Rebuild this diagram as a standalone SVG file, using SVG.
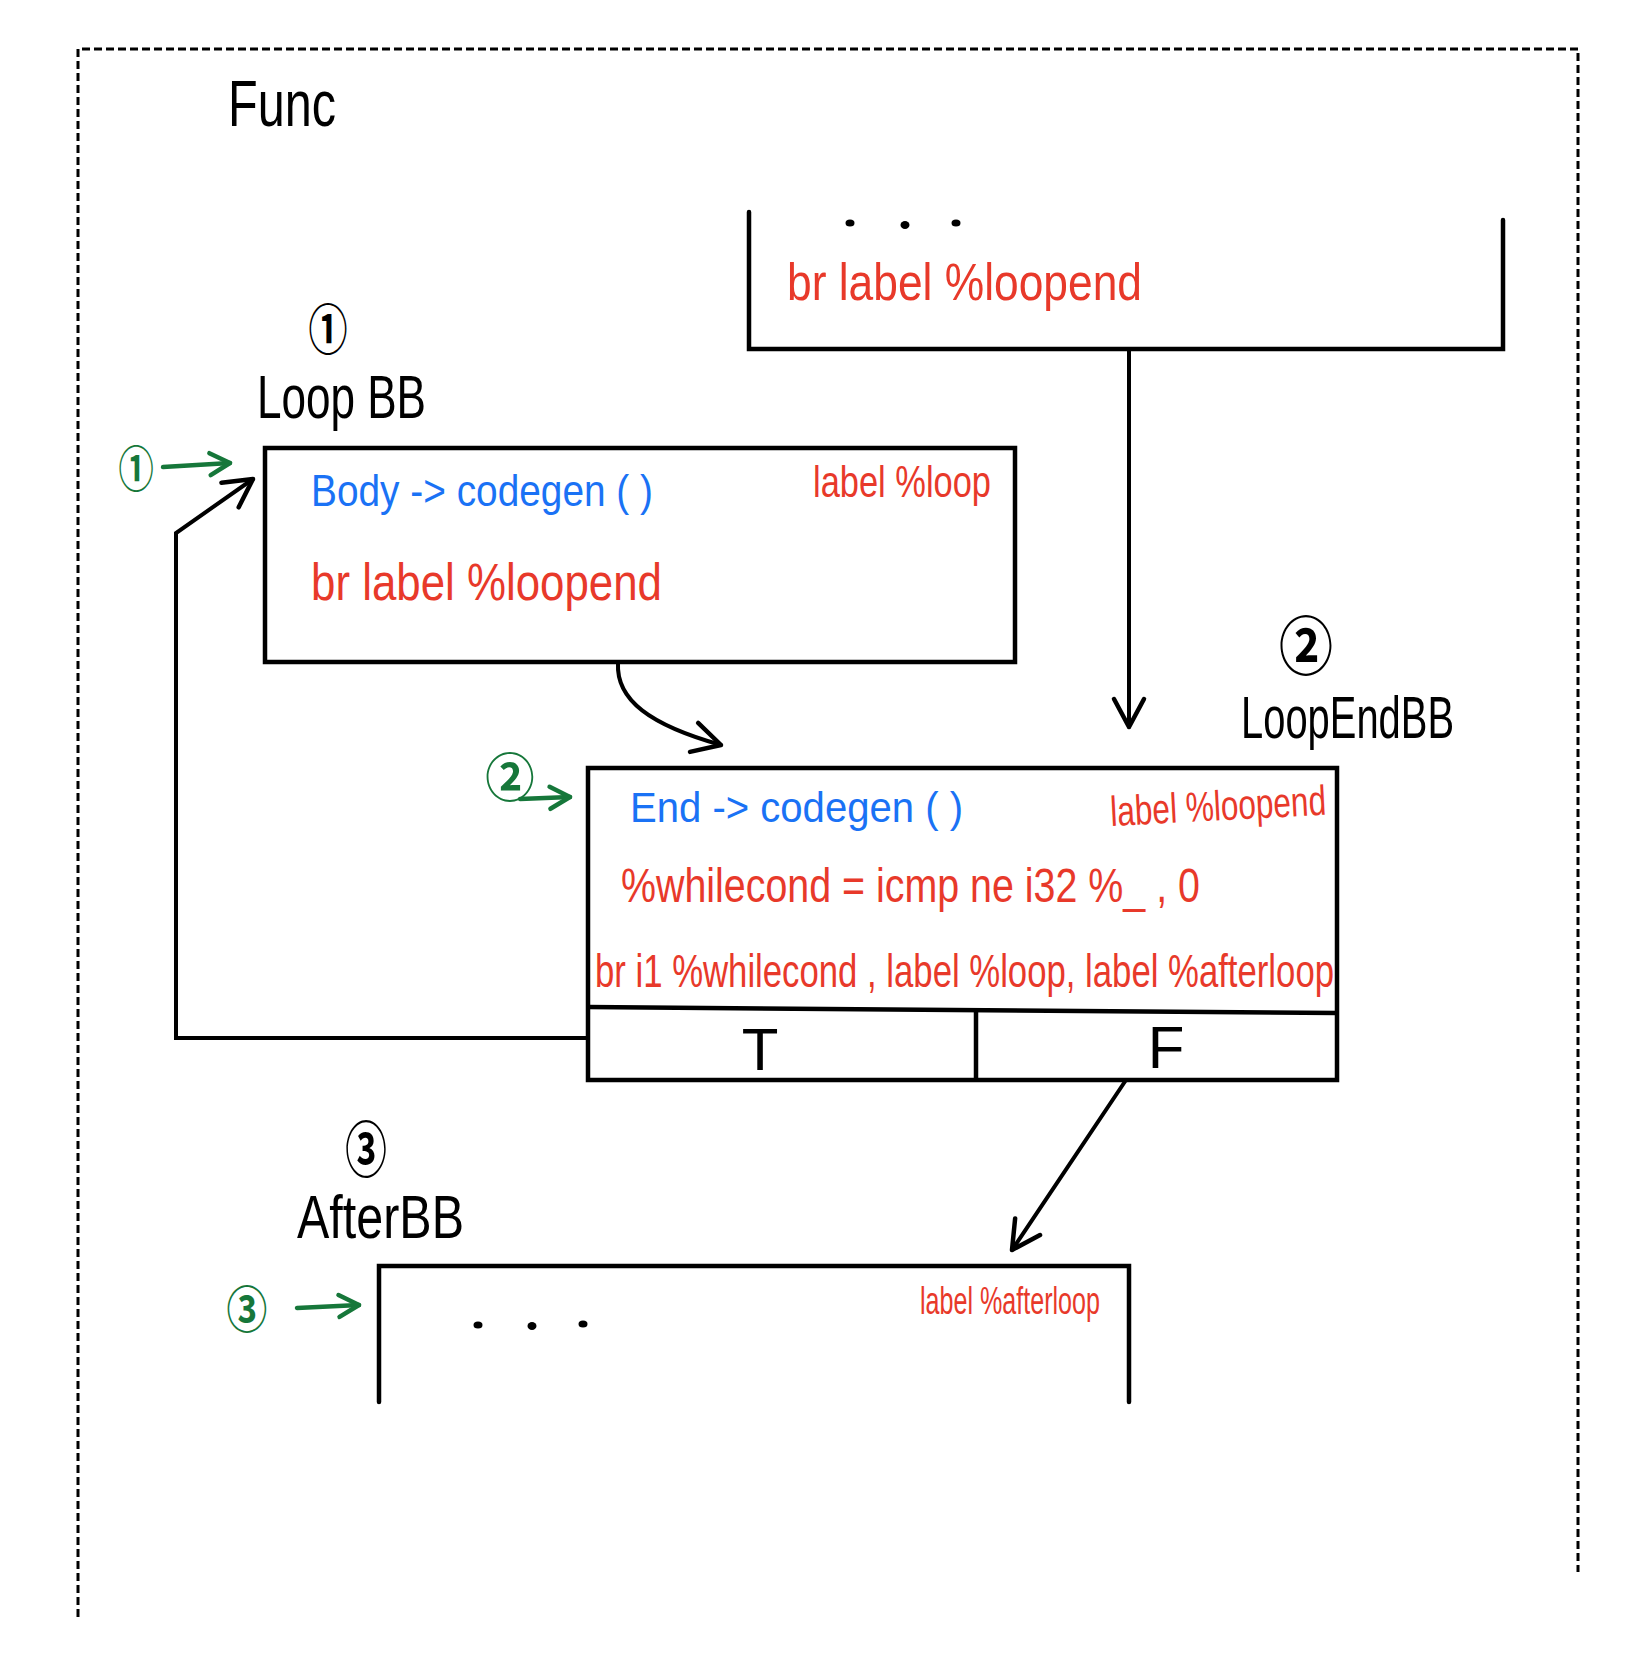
<svg xmlns="http://www.w3.org/2000/svg" width="1645" height="1674" viewBox="0 0 1645 1674">
  <style>
    .hand { font-family: "Liberation Sans", Arial, sans-serif; }
    .blk { fill: #000; }
    .red { fill: #e8392a; }
    .blue { fill: #1a72f5; }
    .grn { fill: #16773a; }
    .circ { font-family: "Noto Sans CJK SC", "DejaVu Sans", sans-serif; font-weight: bold; text-anchor: middle; dominant-baseline: central; }
    .box { fill: #fff; stroke: #000; stroke-width: 4.5; stroke-linejoin: miter; }
    .open { fill: none; stroke: #000; stroke-width: 4.5; stroke-linecap: round; stroke-linejoin: miter; }
    .conn { fill: none; stroke: #000; stroke-width: 4; stroke-linecap: round; stroke-linejoin: miter; }
    .gconn { fill: none; stroke: #16773a; stroke-width: 4.5; stroke-linecap: round; }
    .frame { fill: none; stroke: #000; stroke-width: 3; stroke-dasharray: 8 4; }
  </style>
  <defs>
    <marker id="ah" markerUnits="userSpaceOnUse" markerWidth="80" markerHeight="80" viewBox="-40 -40 80 80" refX="0" refY="0" orient="auto" overflow="visible">
      <path d="M-28,-15 L0,0 L-28,15" fill="none" stroke="#000" stroke-width="4.5" stroke-linecap="round" stroke-linejoin="round"/>
    </marker>
    <marker id="ahg" markerUnits="userSpaceOnUse" markerWidth="60" markerHeight="60" viewBox="-30 -30 60 60" refX="0" refY="0" orient="auto" overflow="visible">
      <path d="M-20,-11 L0,0 L-20,11" fill="none" stroke="#16773a" stroke-width="4.5" stroke-linecap="round" stroke-linejoin="round"/>
    </marker>
  </defs>
  <rect width="1645" height="1674" fill="#fff"/>

  <g id="func">
    <path class="frame" d="M78,1617 V49 H1578 V1572"/>
    <text class="hand blk" x="228" y="126" font-size="64" textLength="108" lengthAdjust="spacingAndGlyphs">Func</text>
  </g>

  <g id="pred-block">
    <path class="open" d="M749,212 V349 H1503 V220"/>
    <ellipse cx="850" cy="223" rx="4.5" ry="3.5"/>
    <ellipse cx="905" cy="225" rx="4.5" ry="4"/>
    <ellipse cx="956" cy="223" rx="4.5" ry="3.5"/>
    <text class="hand red" x="787" y="300" font-size="52" textLength="355" lengthAdjust="spacingAndGlyphs">br label %loopend</text>
  </g>

  <g id="loop-bb">
    <text class="circ blk" transform="translate(328,326) scale(0.78,1.08)" font-size="50">①</text>
    <text class="hand blk" x="257" y="418" font-size="62" textLength="169" lengthAdjust="spacingAndGlyphs">Loop BB</text>
    <rect class="box" x="265" y="448" width="750" height="214"/>
    <text class="hand blue" x="311" y="506" font-size="44" textLength="342" lengthAdjust="spacingAndGlyphs">Body -&gt; codegen ( )</text>
    <text class="hand red" x="813" y="497" font-size="44" textLength="178" lengthAdjust="spacingAndGlyphs">label %loop</text>
    <text class="hand red" x="311" y="600" font-size="52" textLength="351" lengthAdjust="spacingAndGlyphs">br label %loopend</text>
    <text class="circ grn" transform="translate(136,466) scale(0.8,1.1)" font-size="44">①</text>
  </g>

  <g id="loopend-bb">
    <text class="circ blk" transform="translate(1306,642) scale(0.9,1.05)" font-size="60">②</text>
    <text class="hand blk" x="1241" y="738" font-size="60" textLength="213" lengthAdjust="spacingAndGlyphs">LoopEndBB</text>
    <rect class="box" x="588" y="768" width="749" height="312"/>
    <line x1="588" y1="1007" x2="1337" y2="1013" stroke="#000" stroke-width="4.5"/>
    <line x1="976" y1="1010" x2="976" y2="1080" stroke="#000" stroke-width="4.5"/>
    <text class="hand blue" x="630" y="822" font-size="42" textLength="333" lengthAdjust="spacingAndGlyphs">End -&gt; codegen ( )</text>
    <text class="hand red" x="1111" y="826" font-size="42" textLength="216" lengthAdjust="spacingAndGlyphs" transform="rotate(-3 1111 826)">label %loopend</text>
    <text class="hand red" x="621" y="902" font-size="48" textLength="579" lengthAdjust="spacingAndGlyphs">%whilecond = icmp ne i32 %_ , 0</text>
    <text class="hand red" x="595" y="987" font-size="46" textLength="739" lengthAdjust="spacingAndGlyphs">br i1 %whilecond , label %loop, label %afterloop</text>
    <text class="hand blk" x="760" y="1070" font-size="60" text-anchor="middle">T</text>
    <text class="hand blk" x="1166" y="1068" font-size="60" text-anchor="middle">F</text>
    <text class="circ grn" transform="translate(510,774) scale(0.95,1)" font-size="52">②</text>
  </g>

  <g id="after-bb">
    <text class="circ blk" transform="translate(366,1146) scale(0.8,1.15)" font-size="52">③</text>
    <text class="hand blk" x="297" y="1238" font-size="62" textLength="167" lengthAdjust="spacingAndGlyphs">AfterBB</text>
    <path class="open" d="M379,1402 V1266 H1129 V1402"/>
    <ellipse cx="478" cy="1325" rx="4.5" ry="3.5"/>
    <ellipse cx="532" cy="1326" rx="4.5" ry="4"/>
    <ellipse cx="583" cy="1324" rx="4.5" ry="3.5"/>
    <text class="hand red" x="920" y="1314" font-size="38" textLength="180" lengthAdjust="spacingAndGlyphs">label %afterloop</text>
    <text class="circ grn" transform="translate(247,1306) scale(0.85,1.05)" font-size="48">③</text>
  </g>

  <g id="connectors">
    <line class="conn" x1="1129" y1="349" x2="1129" y2="727" marker-end="url(#ah)"/>
    <path class="conn" d="M618,663 C616,700 650,725 721,745" marker-end="url(#ah)"/>
    <polyline class="conn" points="587,1038 176,1038 176,533 253,479" marker-end="url(#ah)"/>
    <line class="conn" x1="1126" y1="1080" x2="1012" y2="1250" marker-end="url(#ah)"/>
    <line class="gconn" x1="163" y1="467" x2="230" y2="463" marker-end="url(#ahg)"/>
    <line class="gconn" x1="520" y1="799" x2="570" y2="797" marker-end="url(#ahg)"/>
    <line class="gconn" x1="297" y1="1308" x2="359" y2="1305" marker-end="url(#ahg)"/>
  </g>
</svg>
